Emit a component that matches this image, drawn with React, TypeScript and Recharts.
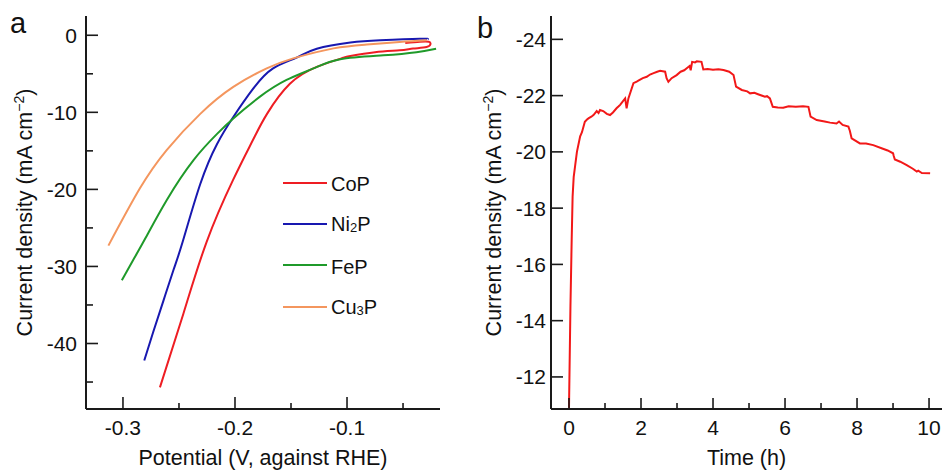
import React from 'react';
import { LineChart, Line, XAxis, YAxis, Legend } from 'recharts';

const FONT = '"Liberation Sans", Arial, Helvetica, sans-serif';
const AXIS = '#1a1a1a';
const TXT = '#111111';

// ---------- Panel a: LSV curves ----------
const seriesNames = ['CoP', 'Ni2P', 'FeP', 'Cu3P'];
const seriesColors = ['#ee1d23', '#1818b0', '#1f9a2a', '#f4965e'];

const copPotential = [-0.267, -0.246, -0.2253, -0.2018, -0.184, -0.1714, -0.151, -0.127, -0.105, -0.097, -0.075, -0.053, -0.041, -0.029, -0.0255, -0.027, -0.035, -0.048];
const copCurrent = [-45.7, -36.1, -26.8, -18.8, -13.6, -10.2, -6.3, -4.1, -3.0, -2.7, -2.2, -1.95, -1.73, -1.52, -1.15, -0.85, -0.85, -1.0];

const ni2pPotential = [-0.281, -0.273, -0.264, -0.255, -0.2467, -0.231, -0.216, -0.2015, -0.1836, -0.166, -0.145, -0.127, -0.097, -0.0705, -0.035, -0.028];
const ni2pCurrent = [-42.2, -38.5, -34.5, -30.5, -26.8, -19.3, -14.1, -10.6, -6.9, -4.3, -2.9, -1.75, -0.95, -0.65, -0.45, -0.52];

const fepPotential = [-0.301, -0.291, -0.28, -0.261, -0.237, -0.216, -0.2015, -0.178, -0.154, -0.13, -0.106, -0.0676, -0.038, -0.0205];
const fepCurrent = [-31.8, -29.2, -26.35, -21.4, -16.2, -12.8, -10.8, -8.0, -5.8, -4.3, -3.1, -2.6, -2.2, -1.75];

const cu3pPotential = [-0.313, -0.285, -0.261, -0.231, -0.2015, -0.1717, -0.148, -0.112, -0.0824, -0.053, -0.029];
const cu3pCurrent = [-27.3, -19.9, -14.9, -10.2, -6.7, -4.3, -3.0, -1.7, -1.2, -0.87, -0.65];

const aXDomain = [-0.333, -0.017];
const aYDomain = [-48.5, 2.5];
const aXTicks = [-0.3, -0.25, -0.2, -0.15, -0.1, -0.05];
const aXLabels = ['-0.3', '', '-0.2', '', '-0.1', ''];
const aYTicks = [0, -5, -10, -15, -20, -25, -30, -35, -40, -45];
const aYLabels = ['0', '', '-10', '', '-20', '', '-30', '', '-40', ''];

// ---------- Panel b: chronoamperometry ----------
const timeHours = [0.0, 0.04, 0.075, 0.1, 0.13, 0.17, 0.22, 0.31, 0.36, 0.44, 0.5, 0.55, 0.62, 0.68, 0.77, 0.82, 0.86, 0.95, 1.05, 1.14, 1.22, 1.32, 1.38, 1.42, 1.5, 1.56, 1.6, 1.65, 1.79, 1.88, 1.95, 2.05, 2.16, 2.25, 2.35, 2.45, 2.53, 2.67, 2.71, 2.76, 2.85, 2.99, 3.1, 3.2, 3.27, 3.35, 3.38, 3.42, 3.5, 3.55, 3.68, 3.73, 3.85, 4.0, 4.15, 4.29, 4.45, 4.57, 4.6, 4.64, 4.8, 4.95, 5.03, 5.15, 5.25, 5.44, 5.5, 5.58, 5.66, 5.8, 5.95, 6.1, 6.3, 6.5, 6.65, 6.71, 6.88, 7.1, 7.25, 7.43, 7.5, 7.6, 7.76, 7.8, 7.85, 8.08, 8.25, 8.45, 8.7, 8.85, 9.0, 9.02, 9.05, 9.2, 9.38, 9.55, 9.66, 9.7, 9.8, 10.03];
const currentDensity = [-10.9, -14.5, -16.9, -18.4, -19.1, -19.5, -20.0, -20.55, -20.7, -21.07, -21.15, -21.2, -21.25, -21.31, -21.45, -21.38, -21.49, -21.45, -21.35, -21.31, -21.4, -21.55, -21.62, -21.67, -21.8, -21.9, -21.55, -21.9, -22.44, -22.5, -22.55, -22.62, -22.67, -22.75, -22.8, -22.85, -22.88, -22.85, -22.62, -22.49, -22.62, -22.73, -22.85, -22.9, -22.97, -23.05, -22.9, -23.2, -23.18, -23.22, -23.2, -22.93, -22.95, -22.92, -22.94, -22.91, -22.85, -22.73, -22.55, -22.32, -22.2, -22.15, -22.08, -22.1, -22.05, -21.96, -21.98, -21.9, -21.6, -21.58, -21.57, -21.62, -21.6, -21.62, -21.6, -21.25, -21.13, -21.08, -21.04, -21.01, -21.08, -20.96, -20.9, -20.75, -20.48, -20.3, -20.3, -20.24, -20.12, -20.05, -19.95, -19.85, -19.73, -19.65, -19.53, -19.4, -19.3, -19.33, -19.25, -19.24];

const bXDomain = [-0.5, 10.36];
const bYDomain = [-24.83, -10.86];
const bXTicks = [0, 1, 2, 3, 4, 5, 6, 7, 8, 9, 10];
const bXLabels = ['0', '', '2', '', '4', '', '6', '', '8', '', '10'];
const bYTicks = [-24, -22, -20, -18, -16, -14, -12];
const bYLabels = ['-24', '-22', '-20', '-18', '-16', '-14', '-12'];

const zip = (xs: number[], ys: number[]) => xs.map((x, i) => ({ x, y: ys[i] }));
const aSeries = [
  zip(copPotential, copCurrent),
  zip(ni2pPotential, ni2pCurrent),
  zip(fepPotential, fepCurrent),
  zip(cu3pPotential, cu3pCurrent),
];
const bData = zip(timeHours, currentDensity);

const lookup = (values: number[], labels: string[], v: number) => {
  const i = values.findIndex((t) => Math.abs(t - v) < 1e-9);
  return i >= 0 ? labels[i] : '';
};

const makeXTick = (values: number[], labels: string[], majorLen: number, minorLen: number) => (props: any) => {
  const { x, y, payload } = props;
  const label = lookup(values, labels, payload.value);
  const len = label ? majorLen : minorLen;
  return (
    <g>
      <line x1={x} x2={x} y1={y} y2={y - len} stroke={AXIS} strokeWidth={1.6} />
      {label ? (
        <text x={x} y={y + 26} textAnchor="middle" fontSize={21} fontFamily={FONT} fill={TXT}>
          {label}
        </text>
      ) : null}
    </g>
  );
};

const makeYTick = (values: number[], labels: string[], majorLen: number, minorLen: number, gap: number) => (props: any) => {
  const { x, y, payload } = props;
  const label = lookup(values, labels, payload.value);
  const len = label ? majorLen : minorLen;
  return (
    <g>
      <line x1={x} x2={x + len} y1={y} y2={y} stroke={AXIS} strokeWidth={1.6} />
      {label ? (
        <text x={x - gap} y={y} dy="0.36em" textAnchor="end" fontSize={21} fontFamily={FONT} fill={TXT}>
          {label}
        </text>
      ) : null}
    </g>
  );
};

const xTitle = (text: string) => (props: any) => {
  const vb = props.viewBox || {};
  return (
    <text x={vb.x + vb.width / 2} y={vb.y + 56} textAnchor="middle" fontSize={21.5} fontFamily={FONT} fill={TXT}>
      {text}
    </text>
  );
};

const yTitle = (baseX: number) => (props: any) => {
  const vb = props.viewBox || {};
  const cx = vb.x + baseX;
  const cy = vb.y + vb.height / 2;
  return (
    <text transform={`translate(${cx},${cy}) rotate(-90)`} x={0} y={0} textAnchor="middle" fontSize={21.5} fontFamily={FONT} fill={TXT}>
      Current density (mA cm
      <tspan fontSize={14} dy={-8}>−2</tspan>
      <tspan dy={8}>)</tspan>
    </text>
  );
};

const renderName = (name: string) => {
  const parts = name.split(/(\d)/).filter((p) => p !== '');
  return parts.map((p, i) =>
    /\d/.test(p) ? (
      <span key={i} style={{ fontSize: 13, verticalAlign: '-0.05em' }}>{p}</span>
    ) : (
      <span key={i}>{p}</span>
    )
  );
};

const ROW = 41.4;
const LegendContent = (props: any) => {
  const payload = [...(props.payload || [])].sort(
    (a: any, b: any) => seriesNames.indexOf(String(a.value)) - seriesNames.indexOf(String(b.value))
  );
  return (
    <div style={{ position: 'relative', fontFamily: FONT, fontSize: 20, color: TXT, width: 120, height: ROW * 4 }}>
      {payload.map((p: any, i: number) => (
        <div
          key={i}
          style={{ position: 'absolute', left: 0, top: i * ROW, height: ROW, display: 'flex', alignItems: 'center' }}
        >
          <div style={{ width: 44, height: 2, background: p.color, marginRight: 4, marginTop: -3 }} />
          <div style={{ lineHeight: '22px', whiteSpace: 'nowrap' }}>{renderName(String(p.value))}</div>
        </div>
      ))}
    </div>
  );
};

export default function App() {
  return (
    <div style={{ position: 'fixed', left: 0, top: 0, width: 943, height: 473, background: '#fff', overflow: 'hidden' }}>
      <div style={{ position: 'absolute', left: 0, top: 0 }}>
        <LineChart width={470} height={473} margin={{ top: 16, right: 30, bottom: 0, left: 0 }}>
          <XAxis
            dataKey="x"
            type="number"
            domain={aXDomain}
            allowDataOverflow
            ticks={aXTicks}
            interval={0}
            height={64}
            tickSize={0}
            tickMargin={0}
            tickLine={false}
            axisLine={{ stroke: AXIS, strokeWidth: 2 }}
            tick={makeXTick(aXTicks, aXLabels, 12, 6)}
            label={xTitle('Potential (V, against RHE)')}
          />
          <XAxis xAxisId="top" orientation="top" type="number" domain={aXDomain} allowDataOverflow height={0} tick={false} tickLine={false} axisLine={{ stroke: AXIS, strokeWidth: 1.5 }} />
          <YAxis
            type="number"
            domain={aYDomain}
            allowDataOverflow
            ticks={aYTicks}
            interval={0}
            width={86}
            tickSize={0}
            tickMargin={0}
            tickLine={false}
            axisLine={{ stroke: AXIS, strokeWidth: 2 }}
            tick={makeYTick(aYTicks, aYLabels, 12, 7, 9)}
            label={yTitle(32)}
          />
          <YAxis yAxisId="right" orientation="right" type="number" domain={aYDomain} allowDataOverflow width={0} tick={false} tickLine={false} axisLine={{ stroke: AXIS, strokeWidth: 1.5 }} />
          {aSeries.map((d, i) => (
            <Line
              key={seriesNames[i]}
              data={d}
              dataKey="y"
              name={seriesNames[i]}
              type="natural"
              stroke={seriesColors[i]}
              strokeWidth={2}
              dot={false}
              isAnimationActive={false}
            />
          ))}
          <Legend
            layout="vertical"
            align="center"
            verticalAlign="middle"
            content={LegendContent}
            wrapperStyle={{ position: 'absolute', left: 283, top: 163.5, width: 120, height: ROW * 4 }}
          />
        </LineChart>
        <div style={{ position: 'absolute', left: 10, top: 0, fontFamily: FONT, fontSize: 29, lineHeight: '1', color: TXT }}>
          <span style={{ position: 'absolute', left: 0, top: 9 }}>a</span>
        </div>
      </div>
      <div style={{ position: 'absolute', left: 470, top: 0 }}>
        <LineChart width={473} height={473} margin={{ top: 16, right: 1, bottom: 0, left: 0 }}>
          <XAxis
            dataKey="x"
            type="number"
            domain={bXDomain}
            allowDataOverflow
            ticks={bXTicks}
            interval={0}
            height={64}
            tickSize={0}
            tickMargin={0}
            tickLine={false}
            axisLine={{ stroke: AXIS, strokeWidth: 2 }}
            tick={makeXTick(bXTicks, bXLabels, 11, 6)}
            label={xTitle('Time (h)')}
          />
          <XAxis xAxisId="top" orientation="top" type="number" domain={bXDomain} allowDataOverflow height={0} tick={false} tickLine={false} axisLine={{ stroke: AXIS, strokeWidth: 1.5 }} />
          <YAxis
            type="number"
            reversed
            domain={bYDomain}
            allowDataOverflow
            ticks={bYTicks}
            interval={0}
            width={81}
            tickSize={0}
            tickMargin={0}
            tickLine={false}
            axisLine={{ stroke: AXIS, strokeWidth: 2 }}
            tick={makeYTick(bYTicks, bYLabels, 12, 7, 5)}
            label={yTitle(31)}
          />
          <YAxis yAxisId="right" orientation="right" type="number" domain={bYDomain} allowDataOverflow width={0} tick={false} tickLine={false} axisLine={{ stroke: AXIS, strokeWidth: 1.5 }} />
          <Line
            data={bData}
            dataKey="y"
            name="stability"
            type="linear"
            stroke="#f21818"
            strokeWidth={2}
            dot={false}
            isAnimationActive={false}
          />
        </LineChart>
        <div style={{ position: 'absolute', left: 7, top: 0, fontFamily: FONT, fontSize: 29, lineHeight: '1', color: TXT }}>
          <span style={{ position: 'absolute', left: 0, top: 14 }}>b</span>
        </div>
      </div>
    </div>
  );
}
